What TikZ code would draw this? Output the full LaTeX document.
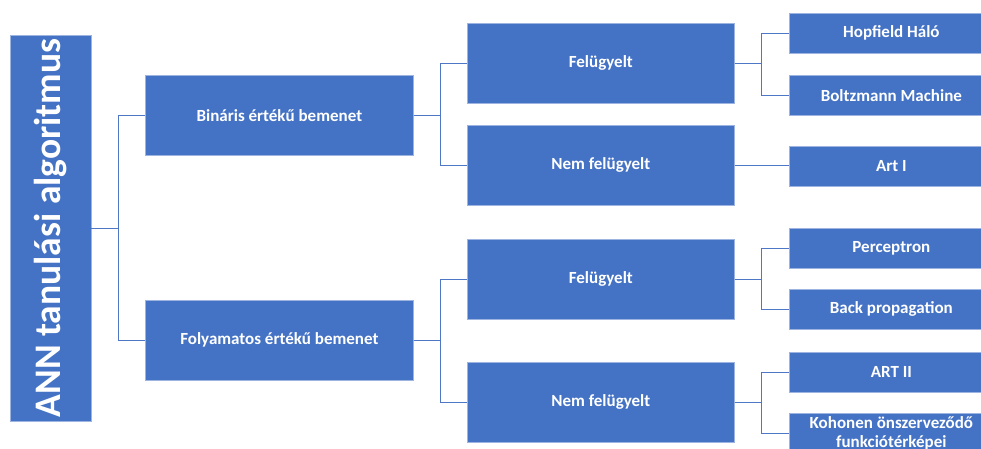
\documentclass[tikz,border=0pt]{standalone}
\usepackage{fontspec}
\setmainfont{Carlito}
\definecolor{boxblue}{HTML}{4472C4}
\definecolor{boxedge}{HTML}{9DB3E0}
\definecolor{linkblue}{HTML}{4E78C6}
\begin{document}
\begin{tikzpicture}[x=1pt,y=-1pt,
  box/.style={fill=boxblue, draw=boxedge, line width=0.7pt, text=white,
    font=\bfseries\fontsize{17}{19}\selectfont, inner sep=0pt,
    anchor=north west, align=center},
  lvlone/.style={box, minimum width=268pt, minimum height=80pt},
  lvltwo/.style={box, minimum width=267pt, minimum height=80pt},
  leaf/.style={box, minimum width=204pt, minimum height=40pt},
  link/.style={draw=linkblue, line width=0.9pt}]
\useasboundingbox (0,0) rectangle (981,448);
\clip (0,0) rectangle (981,448);
% root
\node[box, rotate=90, anchor=center, minimum width=386pt, minimum height=81pt,
  font=\bfseries\fontsize{37.5}{40}\selectfont] (root) at (50.5,228) {ANN tanulási algoritmus};
% level 1
\node[lvlone] (bin) at (145,75) {Bináris értékű bemenet};
\node[lvlone] (fol) at (145,300) {Folyamatos értékű bemenet};
% level 2
\node[lvltwo] (s1) at (467,23) {Felügyelt};
\node[lvltwo] (n1) at (467,125) {Nem felügyelt};
\node[lvltwo] (s2) at (467,239) {Felügyelt};
\node[lvltwo] (n2) at (467,362) {Nem felügyelt};
% leaves
\node[leaf] (hop) at (789,13) {Hopfield Háló};
\node[leaf] (bol) at (789,75) {Boltzmann Machine};
\node[leaf] (art1) at (789,146) {Art I};
\node[leaf] (perc) at (789,228) {Perceptron};
\node[leaf] (back) at (789,289) {Back propagation};
\node[leaf] (art2) at (789,352) {ART II};
\node[leaf] (koh) at (789,413) {Kohonen önszerveződő\\funkciótérképei};
% connectors
\draw[link] (root.south) -- ++(27,0) |- (bin.west);
\draw[link] (root.south) -- ++(27,0) |- (fol.west);
\draw[link] (bin.east) -- ++(27,0) |- (s1.west);
\draw[link] (bin.east) -- ++(27,0) |- (n1.west);
\draw[link] (fol.east) -- ++(27,0) |- (s2.west);
\draw[link] (fol.east) -- ++(27,0) |- (n2.west);
\draw[link] (s1.east) -- ++(27,0) |- (hop.west);
\draw[link] (s1.east) -- ++(27,0) |- (bol.west);
\draw[link] (n1.east) -- (n1.east -| art1.west);
\draw[link] (s2.east) -- ++(27,0) |- (perc.west);
\draw[link] (s2.east) -- ++(27,0) |- (back.west);
\draw[link] (n2.east) -- ++(27,0) |- (art2.west);
\draw[link] (n2.east) -- ++(27,0) |- (koh.west);
\end{tikzpicture}
\end{document}
